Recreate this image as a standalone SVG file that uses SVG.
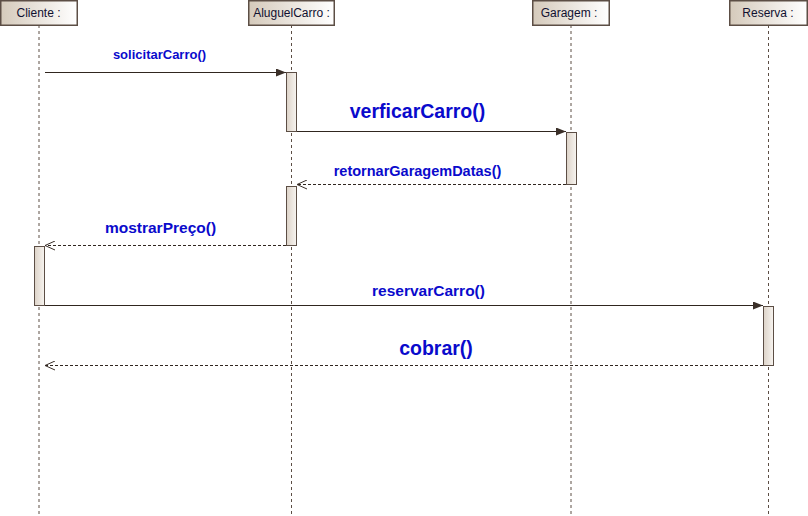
<svg xmlns="http://www.w3.org/2000/svg" width="808" height="516" viewBox="0 0 808 516">
<defs>
<linearGradient id="hg" x1="0" y1="0" x2="1" y2="0">
<stop offset="0" stop-color="#d5cabb"/>
<stop offset="1" stop-color="#ffffff"/>
</linearGradient>
<linearGradient id="ag" x1="0" y1="0" x2="1" y2="0">
<stop offset="0" stop-color="#ddd3c8"/>
<stop offset="1" stop-color="#f7f4f0"/>
</linearGradient>
<marker id="filled" viewBox="0 0 10 8" refX="10" refY="4" markerWidth="10" markerHeight="8" markerUnits="userSpaceOnUse" orient="auto">
<path d="M0,0 L10,4 L0,8 Z" fill="#3a2f28"/>
</marker>
<marker id="open" viewBox="0 0 10 10" refX="10" refY="5" markerWidth="10" markerHeight="10" markerUnits="userSpaceOnUse" orient="auto">
<path d="M0,0.5 L10,5 L0,9.5" fill="none" stroke="#3a2f28" stroke-width="1"/>
</marker>
</defs>
<style>
.hdr{fill:url(#hg);stroke:#5c4e45;stroke-width:1.5}
.ht{font-family:"Liberation Sans",Arial,sans-serif;font-size:12px;fill:#101030;text-anchor:middle}
.life{stroke:#5c4e45;stroke-width:1;stroke-dasharray:3,3}
.act{fill:url(#ag);stroke:#5c4e45;stroke-width:1}
.call{stroke:#30261f;stroke-width:1;fill:none;marker-end:url(#filled)}
.ret{stroke:#30261f;stroke-width:1;fill:none;stroke-dasharray:3,2;marker-end:url(#open)}
.lbl{font-family:"Liberation Sans",Arial,sans-serif;font-weight:bold;fill:#0a0acc;text-anchor:middle}
</style>
<rect width="808" height="516" fill="#ffffff"/>
<g id="lifelines">
<line class="life" x1="39" y1="25" x2="39" y2="516"/>
<line class="life" x1="291.5" y1="25" x2="291.5" y2="516"/>
<line class="life" x1="571" y1="25" x2="571" y2="516"/>
<line class="life" x1="768.5" y1="25" x2="768.5" y2="516"/>
</g>
<g id="node-cliente">
<rect class="hdr" x="0.75" y="0.75" width="76.5" height="24.5"/>
<text class="ht" x="38.5" y="17">Cliente :</text>
</g>
<g id="node-aluguelcarro">
<rect class="hdr" x="248.75" y="0.75" width="85.5" height="24.5"/>
<text class="ht" x="291.5" y="17">AluguelCarro :</text>
</g>
<g id="node-garagem">
<rect class="hdr" x="532.75" y="0.75" width="76.5" height="24.5"/>
<text class="ht" x="569" y="17">Garagem :</text>
</g>
<g id="node-reserva">
<rect class="hdr" x="729.75" y="0.75" width="77.5" height="24.5"/>
<text class="ht" x="768" y="17">Reserva :</text>
</g>
<g id="activations">
<rect class="act" x="286.5" y="72.5" width="10" height="59"/>
<rect class="act" x="566.5" y="132.5" width="10" height="52"/>
<rect class="act" x="286.5" y="186.5" width="10" height="59"/>
<rect class="act" x="34.5" y="246.5" width="10" height="59"/>
<rect class="act" x="763.5" y="306.5" width="10" height="59"/>
</g>
<g id="connectors">
<line class="call" x1="45" y1="72.5" x2="286" y2="72.5"/>
<line class="call" x1="297" y1="131.5" x2="566" y2="131.5"/>
<line class="ret" x1="566" y1="184.5" x2="297" y2="184.5"/>
<line class="ret" x1="286" y1="245.5" x2="45" y2="245.5"/>
<line class="call" x1="45" y1="305.5" x2="763" y2="305.5"/>
<line class="ret" x1="763" y1="365.5" x2="45" y2="365.5"/>
</g>
<g id="labels">
<text class="lbl" x="159.5" y="59" font-size="13">solicitarCarro()</text>
<text class="lbl" x="417.5" y="118" font-size="19.5">verficarCarro()</text>
<text class="lbl" x="417.5" y="176" font-size="14.5">retornarGaragemDatas()</text>
<text class="lbl" x="160.5" y="233" font-size="15.5">mostrarPreço()</text>
<text class="lbl" x="428.5" y="296" font-size="15.5">reservarCarro()</text>
<text class="lbl" x="436" y="355" font-size="19.5">cobrar()</text>
</g>
</svg>
